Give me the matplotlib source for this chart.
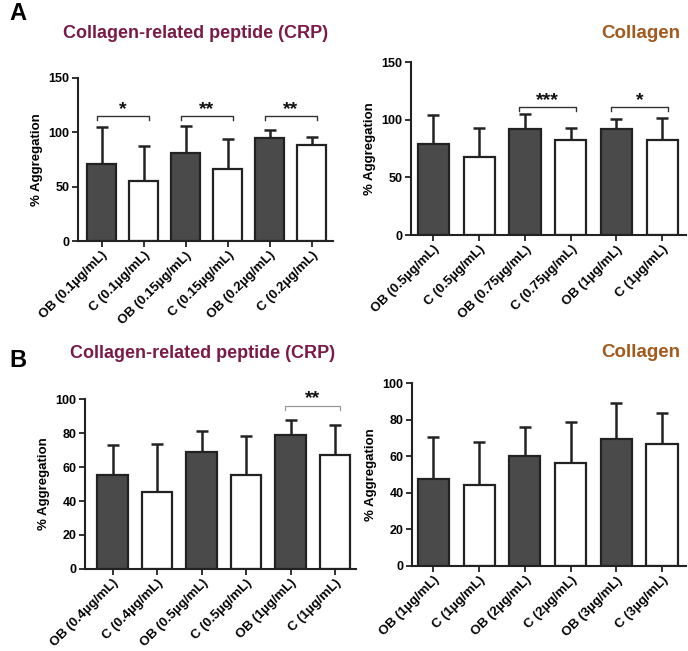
import matplotlib
matplotlib.use("Agg")
import matplotlib.pyplot as plt
import numpy as np

plt.rcParams['font.family'] = ['Liberation Sans', 'DejaVu Sans']
plt.rcParams['font.weight'] = 'bold'

# ---- data ----
a_crp_labels = ["OB (0.1µg/mL)", "C (0.1µg/mL)", "OB (0.15µg/mL)", "C (0.15µg/mL)",
                "OB (0.2µg/mL)", "C (0.2µg/mL)"]
a_crp_mean = [70.6, 55.2, 81.3, 66.6, 94.8, 88.0]
a_crp_err = [34.0, 32.2, 24.5, 27.3, 7.7, 7.4]

a_col_labels = ["OB (0.5µg/mL)", "C (0.5µg/mL)", "OB (0.75µg/mL)", "C (0.75µg/mL)",
                "OB (1µg/mL)", "C (1µg/mL)"]
a_col_mean = [78.5, 67.5, 92.3, 82.2, 92.0, 82.2]
a_col_err = [25.3, 25.4, 12.4, 10.4, 8.7, 19.0]

b_crp_labels = ["OB (0.4µg/mL)", "C (0.4µg/mL)", "OB (0.5µg/mL)", "C (0.5µg/mL)",
                "OB (1µg/mL)", "C (1µg/mL)"]
b_crp_mean = [55.2, 45.2, 68.7, 55.2, 78.9, 67.0]
b_crp_err = [17.8, 28.4, 12.3, 22.9, 9.0, 17.5]

b_col_labels = ["OB (1µg/mL)", "C (1µg/mL)", "OB (2µg/mL)", "C (2µg/mL)",
                "OB (3µg/mL)", "C (3µg/mL)"]
b_col_mean = [47.5, 44.4, 60.1, 56.1, 69.6, 66.8]
b_col_err = [23.2, 23.4, 15.8, 22.4, 19.3, 16.9]

a_crp_sig = [(0, 1, "*"), (2, 3, "**"), (4, 5, "**")]
a_col_sig = [(2, 3, "***"), (4, 5, "*")]
b_crp_sig = [(4, 5, "**")]
b_col_sig = []

CRP_COLOR = "#7a1a48"
COL_COLOR = "#a35a1e"
DARK = "#4a4a4a"
EDGE = "#222222"

fig = plt.figure(figsize=(6.88, 6.51), dpi=100)


def panel(rect, labels, means, errs, ymax, ystep, xlim, sig, sig_y, sig_color, sig_lw):
    ax = fig.add_axes(rect)
    x = np.arange(len(labels))
    colors = [DARK if i % 2 == 0 else "white" for i in range(len(labels))]
    ax.bar(x, means, width=0.68, color=colors, edgecolor=EDGE, linewidth=1.6, zorder=2)
    ax.errorbar(x, means, yerr=[np.zeros(len(errs)), errs], fmt='none',
                ecolor=EDGE, elinewidth=1.8, capsize=4.5, capthick=1.8, zorder=1)
    ax.set_xlim(*xlim)
    ax.set_ylim(0, ymax)
    ax.set_yticks(np.arange(0, ymax + 1, ystep))
    ax.set_xticks(x)
    ax.set_xticklabels(labels, rotation=45, ha='right', rotation_mode='anchor',
                       fontsize=9.5, fontweight='bold')
    for t in ax.get_yticklabels():
        t.set_fontsize(9)
        t.set_fontweight('bold')
    ax.set_ylabel("% Aggregation", fontsize=9.5, fontweight='bold', labelpad=4)
    for s in ['top', 'right']:
        ax.spines[s].set_visible(False)
    for s in ['left', 'bottom']:
        ax.spines[s].set_linewidth(1.5)
        ax.spines[s].set_color(EDGE)
    ax.tick_params(width=1.3, length=4, color=EDGE, pad=2)
    h = ymax * 0.025
    for i, j, star in sig:
        xa, xb = i - 0.12, j + 0.12
        ax.plot([xa, xa, xb, xb], [sig_y - h, sig_y, sig_y, sig_y - h],
                color=sig_color, lw=sig_lw, clip_on=False)
        ax.text((xa + xb) / 2, sig_y - ymax * 0.01, star, ha='center', va='bottom',
                fontsize=14, fontweight='bold', color='#111111')
    return ax


panel([0.1134, 0.6298, 0.3706, 0.2504], a_crp_labels, a_crp_mean, a_crp_err,
      150, 50, (-0.56, 5.51), a_crp_sig, 114.7, "#333333", 1.0)
panel([0.5974, 0.639, 0.3997, 0.2657], a_col_labels, a_col_mean, a_col_err,
      150, 50, (-0.49, 5.52), a_col_sig, 111.0, "#333333", 1.0)
panel([0.1235, 0.126, 0.394, 0.261], b_crp_labels, b_crp_mean, b_crp_err,
      100, 20, (-0.62, 5.47), b_crp_sig, 96.0, "#999999", 0.9)
panel([0.5988, 0.1306, 0.398, 0.281], b_col_labels, b_col_mean, b_col_err,
      100, 20, (-0.47, 5.52), b_col_sig, 96.0, "#999999", 0.9)

fig.text(196 / 688, 1 - 34 / 651, "Collagen-related peptide (CRP)", ha='center', va='center',
         fontsize=13, fontweight='bold', color=CRP_COLOR)
fig.text(641 / 688, 1 - 34 / 651, "Collagen", ha='center', va='center',
         fontsize=13.5, fontweight='bold', color=COL_COLOR)
fig.text(203 / 688, 1 - 354 / 651, "Collagen-related peptide (CRP)", ha='center', va='center',
         fontsize=13, fontweight='bold', color=CRP_COLOR)
fig.text(641 / 688, 1 - 353 / 651, "Collagen", ha='center', va='center',
         fontsize=13.5, fontweight='bold', color=COL_COLOR)
fig.text(9 / 688, 1 - 14 / 651, "A", ha='left', va='center', fontsize=17, fontweight='bold')
fig.text(9 / 688, 1 - 360 / 651, "B", ha='left', va='center', fontsize=17, fontweight='bold')

fig.savefig("out.png", dpi=100)
